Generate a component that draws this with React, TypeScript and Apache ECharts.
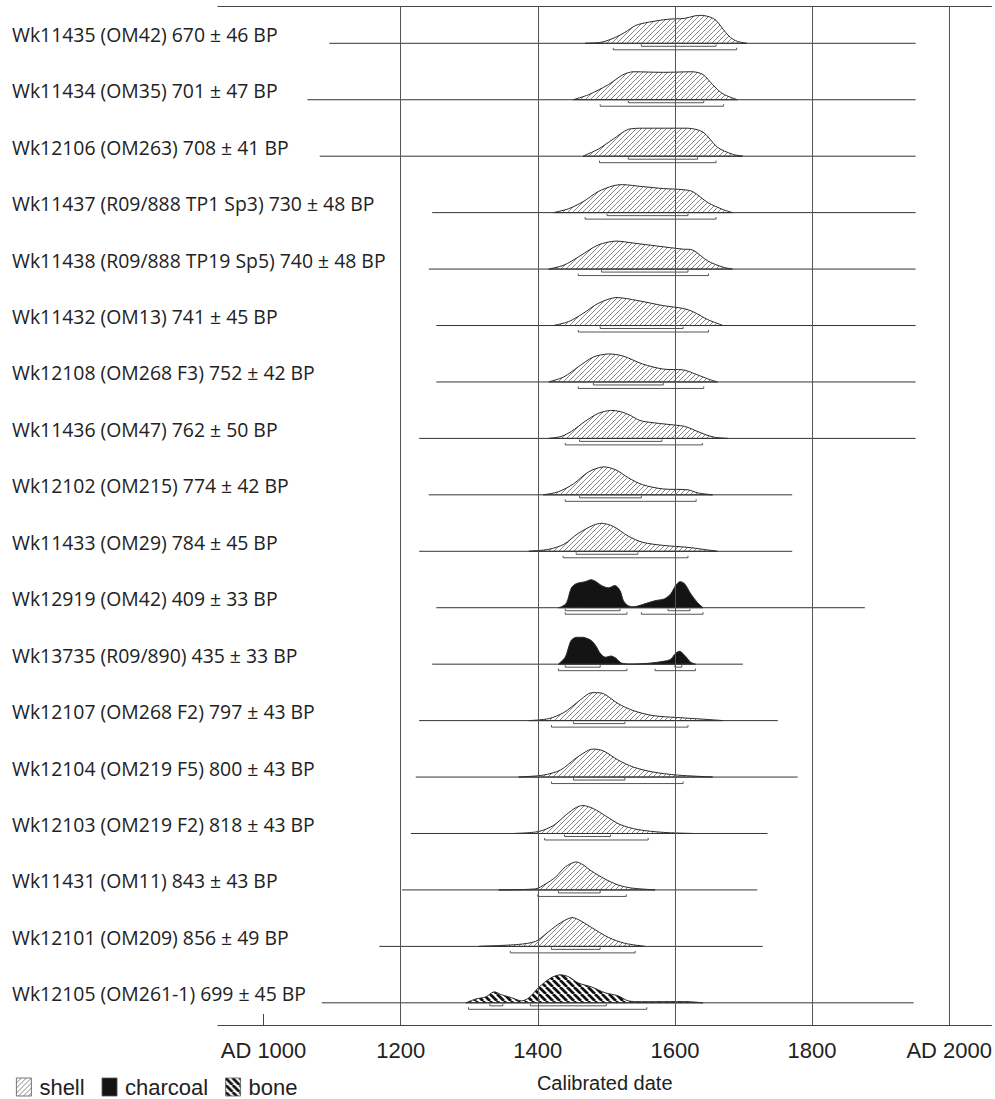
import React, { useEffect, useRef } from "react";
import * as echarts from "echarts";

const labels = [
  "Wk11435 (OM42) 670 ± 46 BP",
  "Wk11434 (OM35) 701 ± 47 BP",
  "Wk12106 (OM263) 708 ± 41 BP",
  "Wk11437 (R09/888 TP1 Sp3) 730 ± 48 BP",
  "Wk11438 (R09/888 TP19 Sp5) 740 ± 48 BP",
  "Wk11432 (OM13) 741 ± 45 BP",
  "Wk12108 (OM268 F3) 752 ± 42 BP",
  "Wk11436 (OM47) 762 ± 50 BP",
  "Wk12102 (OM215) 774 ± 42 BP",
  "Wk11433 (OM29) 784 ± 45 BP",
  "Wk12919 (OM42) 409 ± 33 BP",
  "Wk13735 (R09/890) 435 ± 33 BP",
  "Wk12107 (OM268 F2) 797 ± 43 BP",
  "Wk12104 (OM219 F5) 800 ± 43 BP",
  "Wk12103 (OM219 F2) 818 ± 43 BP",
  "Wk11431 (OM11) 843 ± 43 BP",
  "Wk12101 (OM209) 856 ± 49 BP",
  "Wk12105 (OM261-1) 699 ± 45 BP",
];

const materials = [
  "shell", "shell", "shell", "shell", "shell", "shell", "shell", "shell", "shell", "shell",
  "charcoal", "charcoal",
  "shell", "shell", "shell", "shell", "shell",
  "bone",
];

const lineStart = [1096, 1064, 1082, 1246, 1241, 1252, 1252, 1227, 1241, 1227, 1252, 1246, 1227, 1222, 1215, 1202, 1169, 1085];
const lineEnd = [1951, 1951, 1951, 1951, 1951, 1951, 1951, 1951, 1771, 1771, 1877, 1699, 1750, 1779, 1735, 1720, 1728, 1948];

const range68 = [
  [[1551, 1660]],
  [[1532, 1642]],
  [[1532, 1633]],
  [[1501, 1619]],
  [[1493, 1619]],
  [[1491, 1612]],
  [[1481, 1583]],
  [[1461, 1581]],
  [[1461, 1551]],
  [[1456, 1546]],
  [[1440, 1520], [1590, 1622]],
  [[1440, 1491], [1600, 1610]],
  [[1452, 1527]],
  [[1452, 1527]],
  [[1439, 1506]],
  [[1430, 1491]],
  [[1420, 1491]],
  [[1330, 1349], [1389, 1500]],
];

const range95 = [
  [[1510, 1690]],
  [[1491, 1671]],
  [[1490, 1660]],
  [[1469, 1660]],
  [[1459, 1649]],
  [[1459, 1649]],
  [[1459, 1642]],
  [[1440, 1640]],
  [[1440, 1631]],
  [[1437, 1619]],
  [[1440, 1530], [1551, 1641]],
  [[1430, 1530], [1571, 1630]],
  [[1420, 1619]],
  [[1420, 1612]],
  [[1410, 1561]],
  [[1400, 1529]],
  [[1360, 1542]],
  [[1299, 1559]],
];

const density = [
  [[1469, 0], [1493, 0.04], [1513, 0.21], [1527, 0.39], [1543, 0.64], [1561, 0.75], [1590, 0.86], [1614, 0.89], [1629, 0.98], [1640, 1.0], [1652, 0.93], [1660, 0.82], [1667, 0.61], [1674, 0.39], [1681, 0.21], [1691, 0.07], [1705, 0]],
  [[1452, 0], [1474, 0.18], [1503, 0.54], [1524, 0.89], [1539, 1.0], [1583, 0.98], [1626, 1.0], [1641, 0.9], [1655, 0.54], [1670, 0.21], [1691, 0]],
  [[1466, 0], [1488, 0.25], [1510, 0.61], [1532, 0.96], [1553, 1.0], [1619, 1.0], [1641, 0.86], [1662, 0.32], [1684, 0.07], [1699, 0]],
  [[1423, 0], [1445, 0.14], [1466, 0.39], [1488, 0.75], [1510, 0.96], [1524, 1.0], [1553, 0.93], [1583, 0.86], [1612, 0.82], [1626, 0.75], [1648, 0.36], [1670, 0.11], [1684, 0]],
  [[1416, 0], [1438, 0.14], [1459, 0.43], [1488, 0.86], [1514, 1.0], [1539, 0.93], [1575, 0.82], [1612, 0.71], [1626, 0.68], [1648, 0.29], [1670, 0.07], [1684, 0]],
  [[1423, 0], [1445, 0.14], [1466, 0.43], [1488, 0.79], [1514, 1.0], [1546, 0.89], [1583, 0.71], [1612, 0.61], [1626, 0.5], [1648, 0.21], [1670, 0]],
  [[1416, 0], [1438, 0.18], [1459, 0.54], [1481, 0.89], [1503, 1.0], [1524, 0.93], [1553, 0.64], [1583, 0.46], [1612, 0.43], [1626, 0.32], [1648, 0.11], [1662, 0]],
  [[1416, 0], [1434, 0.07], [1449, 0.25], [1469, 0.61], [1488, 0.89], [1506, 1.0], [1520, 0.96], [1535, 0.82], [1549, 0.64], [1565, 0.57], [1590, 0.5], [1614, 0.43], [1629, 0.29], [1644, 0.14], [1658, 0.04], [1677, 0]],
  [[1408, 0], [1430, 0.11], [1452, 0.39], [1474, 0.82], [1496, 1.0], [1514, 0.89], [1532, 0.61], [1553, 0.36], [1583, 0.21], [1619, 0.18], [1633, 0.07], [1655, 0]],
  [[1387, 0], [1416, 0.07], [1438, 0.25], [1459, 0.64], [1481, 0.93], [1493, 1.0], [1510, 0.89], [1532, 0.54], [1553, 0.32], [1583, 0.21], [1619, 0.14], [1641, 0.07], [1662, 0]],
  [[1430, 0], [1435, 0.04], [1442, 0.18], [1449, 0.71], [1456, 0.86], [1469, 0.93], [1478, 1.0], [1485, 0.93], [1493, 0.79], [1503, 0.71], [1513, 0.79], [1520, 0.61], [1525, 0.25], [1532, 0.07], [1542, 0.04], [1556, 0.14], [1571, 0.25], [1585, 0.32], [1594, 0.5], [1601, 0.79], [1607, 0.93], [1614, 0.86], [1623, 0.5], [1633, 0.18], [1641, 0]],
  [[1430, 0], [1440, 0.25], [1445, 0.61], [1449, 0.86], [1456, 0.96], [1466, 0.96], [1477, 0.86], [1484, 0.68], [1491, 0.39], [1498, 0.25], [1507, 0.29], [1514, 0.21], [1522, 0.04], [1536, 0], [1565, 0.04], [1585, 0.11], [1594, 0.18], [1601, 0.39], [1607, 0.46], [1614, 0.32], [1623, 0.07], [1630, 0]],
  [[1387, 0], [1416, 0.07], [1438, 0.29], [1459, 0.68], [1474, 0.96], [1482, 1.0], [1496, 0.96], [1517, 0.61], [1539, 0.36], [1568, 0.18], [1604, 0.11], [1648, 0.04], [1670, 0]],
  [[1372, 0], [1408, 0.07], [1433, 0.25], [1456, 0.68], [1474, 0.96], [1482, 1.0], [1496, 0.93], [1517, 0.61], [1539, 0.36], [1568, 0.18], [1604, 0.07], [1655, 0]],
  [[1365, 0], [1401, 0.07], [1423, 0.29], [1442, 0.68], [1456, 0.93], [1466, 1.0], [1481, 0.89], [1500, 0.61], [1520, 0.32], [1546, 0.14], [1583, 0.04], [1626, 0]],
  [[1343, 0], [1397, 0.04], [1411, 0.21], [1426, 0.46], [1440, 0.82], [1455, 1.0], [1464, 0.93], [1478, 0.68], [1498, 0.39], [1517, 0.18], [1536, 0.07], [1571, 0]],
  [[1314, 0], [1372, 0.07], [1397, 0.18], [1411, 0.43], [1430, 0.79], [1449, 1.03], [1459, 0.96], [1478, 0.68], [1503, 0.32], [1527, 0.11], [1556, 0]],
  [[1295, 0], [1310, 0.14], [1324, 0.21], [1336, 0.39], [1347, 0.29], [1362, 0.18], [1376, 0.07], [1387, 0.18], [1401, 0.54], [1419, 0.89], [1433, 1.0], [1445, 0.93], [1459, 0.71], [1478, 0.57], [1498, 0.36], [1517, 0.25], [1532, 0.07], [1551, 0.04], [1619, 0.04], [1641, 0]],
];

const tickYears = [1000, 1200, 1400, 1600, 1800, 2000];
const gridYears = [1200, 1400, 1600, 1800, 2000];
const materialNames = ["shell", "charcoal", "bone"];

const X_MIN = 933.6;
const X_MAX = 2061.6;
const Y_MIN = -0.661;
const Y_MAX = 17.393;
const H_UNIT = 0.496;

function makeHatch(kind: string): any {
  const s = kind === "bone" ? 7 : 5;
  const c = document.createElement("canvas");
  c.width = s;
  c.height = s;
  const ctx = c.getContext("2d")!;
  ctx.strokeStyle = kind === "bone" ? "#111" : "#6a6a6a";
  ctx.lineWidth = kind === "bone" ? 2.8 : 0.8;
  ctx.beginPath();
  for (const o of [-s, 0, s]) {
    if (kind === "bone") {
      ctx.moveTo(o, 0);
      ctx.lineTo(o + s, s);
    } else {
      ctx.moveTo(o, s);
      ctx.lineTo(o + s, 0);
    }
  }
  ctx.stroke();
  return { image: c, repeat: "repeat", imageWidth: s, imageHeight: s };
}

export default function App() {
  const ref = useRef<HTMLDivElement>(null);
  useEffect(() => {
    if (!ref.current) return;
    const chart = echarts.init(ref.current, null, { renderer: "svg" });
    const fills: Record<string, any> = {
      shell: makeHatch("shell"),
      charcoal: "#141414",
      bone: makeHatch("bone"),
    };
    const axisFont = "'Liberation Sans Narrow', 'Arial Narrow', sans-serif";

    const renderRow = (params: any, api: any) => {
      const i = api.value(1);
      const p0 = api.coord([lineStart[i], i]);
      const p1 = api.coord([lineEnd[i], i]);
      const by = p0[1];
      const pts = density[i].map((d) => api.coord([d[0], i - d[1] * H_UNIT]));
      const children: any[] = [];
      children.push({
        type: "polygon",
        shape: { points: pts, smooth: 0.3, smoothConstraint: [pts[0], pts[0]] },
        style: { fill: fills[materials[i]], stroke: "#2a2a2a", lineWidth: 1 },
      });
      children.push({
        type: "line",
        shape: { x1: p0[0], y1: by, x2: p1[0], y2: by },
        style: { stroke: "#333", lineWidth: 1 },
      });
      const bracket = (r: number[], off: number) => {
        const xa = api.coord([r[0], i])[0];
        const xb = api.coord([r[1], i])[0];
        return {
          type: "polyline",
          shape: { points: [[xa, by + off - 2], [xa, by + off], [xb, by + off], [xb, by + off - 2]] },
          style: { stroke: "#555", lineWidth: 1, fill: null },
        };
      };
      range68[i].forEach((r) => children.push(bracket(r, 3)));
      range95[i].forEach((r) => children.push(bracket(r, 6.5)));
      children.push({
        type: "text",
        x: 12,
        y: by - 9,
        style: {
          text: labels[i],
          fill: "#222",
          fontSize: 19.4,
          fontFamily: "'Open Sans', sans-serif",
          align: "left",
          verticalAlign: "middle",
        },
      });
      return { type: "group", children };
    };

    const series: any[] = materialNames.map((m, k) => ({
      name: m,
      type: "custom",
      coordinateSystem: "cartesian2d",
      renderItem: renderRow,
      itemStyle: { color: fills[m] },
      silent: true,
      data: labels
        .map((_, i) => [lineStart[i], i])
        .filter((d) => materials[d[1]] === m),
      ...(k === 0
        ? {
            markLine: {
              silent: true,
              symbol: "none",
              label: { show: false },
              lineStyle: { color: "#555", width: 1, type: "solid" },
              data: gridYears.map((y) => ({ xAxis: y })),
            },
          }
        : {}),
    }));

    chart.setOption({
      animation: false,
      grid: { left: 218, right: 0, top: 6, bottom: 74 },
      legend: {
        data: materialNames,
        left: 11,
        top: 1071,
        icon: "rect",
        itemWidth: 15,
        itemHeight: 18,
        itemGap: 17,
        itemStyle: { borderColor: "#555", borderWidth: 0.8 },
        textStyle: { fontFamily: axisFont, fontSize: 22, color: "#222", padding: [0, 0, 0, 3] },
      },
      xAxis: [
        {
          type: "value",
          min: X_MIN,
          max: X_MAX,
          position: "bottom",
          axisLine: { show: true, onZero: false, lineStyle: { color: "#444", width: 1 } },
          axisTick: { show: true, inside: true, length: 11, customValues: [1000], lineStyle: { color: "#444" } },
          axisLabel: {
            show: true,
            customValues: tickYears,
            formatter: (v: number) => (v === 1000 || v === 2000 ? `AD ${v}` : `${v}`),
            fontFamily: axisFont,
            fontSize: 22,
            color: "#222",
            margin: 14,
          },
          splitLine: { show: false },
          name: "Calibrated date",
          nameLocation: "middle",
          nameGap: 48,
          nameTextStyle: { fontFamily: axisFont, fontSize: 20, color: "#222" },
        },
        {
          type: "value",
          min: X_MIN,
          max: X_MAX,
          position: "top",
          axisLine: { show: true, onZero: false, lineStyle: { color: "#444", width: 1 } },
          axisTick: { show: false },
          axisLabel: { show: false },
          splitLine: { show: false },
        },
      ],
      yAxis: { type: "value", min: Y_MIN, max: Y_MAX, inverse: true, show: false },
      series,
    });
    return () => chart.dispose();
  }, []);
  return (
    <div
      ref={ref}
      style={{ position: "fixed", left: 0, top: 0, width: 995, height: 1099, background: "#fff" }}
    />
  );
}
